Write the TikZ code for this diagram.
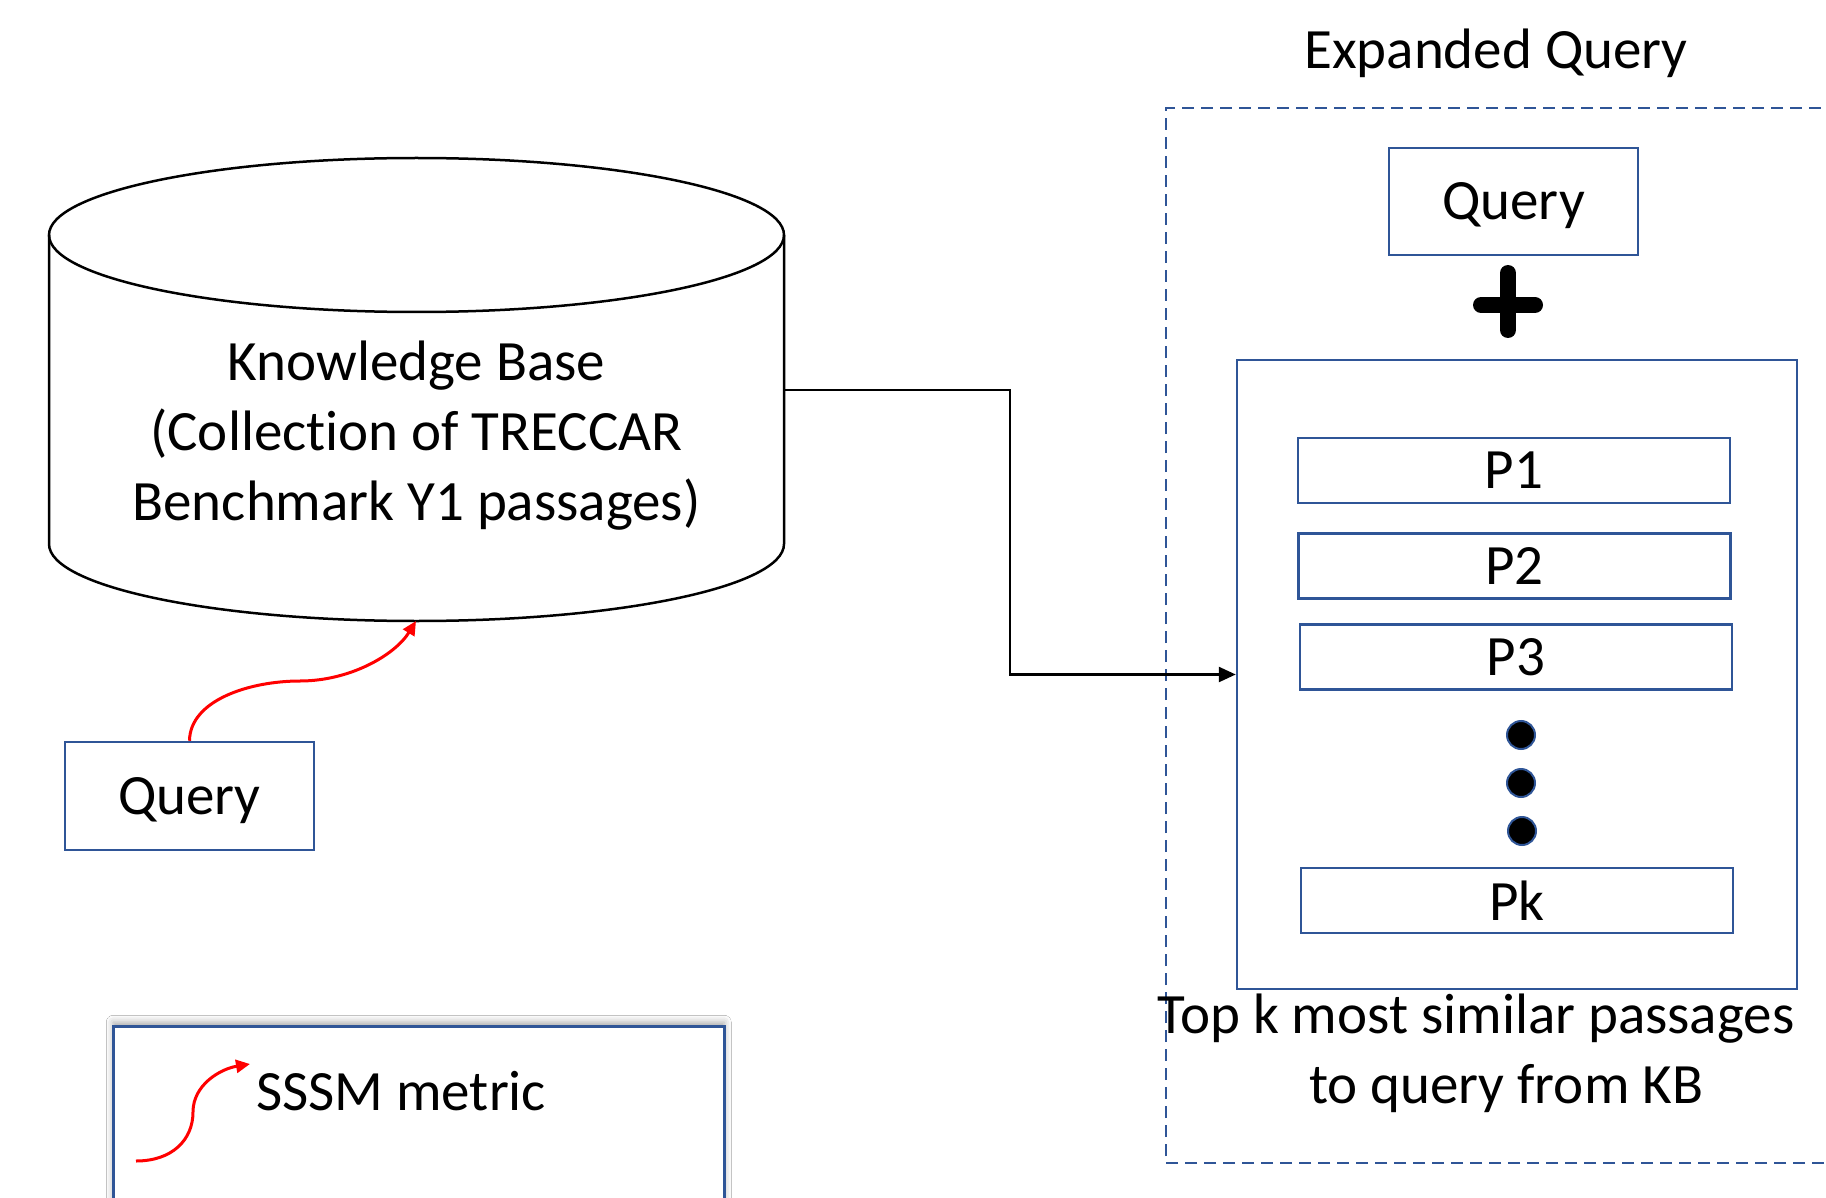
\documentclass[tikz,border=0pt]{standalone}
\usepackage{fontspec}
\setmainfont{Carlito}[Ligatures=NoCommon]
\usetikzlibrary{arrows.meta,shadows.blur}
\definecolor{boxblue}{HTML}{2F5597}
\begin{document}
\begin{tikzpicture}[x=1pt,y=-1pt,
  txt/.style={font=\fontsize{57pt}{70pt}\selectfont, inner sep=0pt},
  qbox/.style={draw=boxblue, line width=2.5pt, fill=white, txt, text depth=0pt, minimum width=249pt, minimum height=108pt},
  pbox/.style={draw=boxblue, line width=2.5pt, txt, minimum width=432pt, minimum height=65pt},
  dotnode/.style={circle, fill=black, draw=boxblue, line width=2pt, minimum size=28pt, inner sep=0pt},
  redarrow/.style={draw=red, line width=3pt, -{Triangle[length=14pt,width=13pt]}},
  blackarrow/.style={draw=black, line width=2.5pt, -{Triangle[length=17pt,width=15pt]}},
  dashbox/.style={draw=boxblue, line width=2.5pt, dash pattern=on 12pt off 7pt}]
\useasboundingbox (0,0) rectangle (1826,1198);
\clip (0,0) rectangle (1826,1198);
\fill[white] (0,0) rectangle (1826,1198);

% Knowledge base cylinder
\draw[line width=2.5pt, fill=white] (49,235) -- (49,544)
  arc[start angle=180, end angle=360, x radius=367.5pt, y radius=77pt] -- (784,235);
\draw[line width=2.5pt] (416.5,235) ellipse [x radius=367.5pt, y radius=77pt];
\node[txt, align=center] (kb) at (416.5,436) {Knowledge Base\\(Collection of TRECCAR\\Benchmark Y1 passages)};
\coordinate (kbright) at (784,390);
\coordinate (kbbottom) at (416,621);

% Query (left)
\node[qbox] (qleft) at (189.5,796) {Query};
\draw[redarrow] (qleft.north) .. controls (190,700) and (250,681) .. (300,681)
  .. controls (350,681) and (395,655) .. (kbbottom);

% Expanded query
\node[txt] (eqtitle) at (1496,53) {Expanded Query};
\draw[dashbox] (1900,1163) -- (1166,1163) -- (1166,108) -- (1900,108);
\node[qbox, minimum height=107pt] (qright) at (1513.5,201.5) {Query};
\draw[line width=16pt, line cap=round] (1481,305) -- (1535,305);
\draw[line width=16pt, line cap=round] (1508,273) -- (1508,330);

\node[draw=boxblue, line width=2.5pt, minimum width=560pt, minimum height=629pt] (big) at (1517,674.5) {};
\node[pbox] (p1) at (1514,470.5) {P1};
\node[pbox] (p2) at (1514.5,566) {P2};
\node[pbox] (p3) at (1516,657) {P3};
\node[dotnode] (d1) at (1521,735) {};
\node[dotnode] (d2) at (1521,783) {};
\node[dotnode] (d3) at (1522,831) {};
\node[pbox] (pk) at (1517,900.5) {Pk};
\node[txt, align=center] (topk) at (1506,1053) {Top k most similar passages\hspace*{60pt}\\to query from KB};

% connector
\draw[blackarrow] (kbright) -- ++(226,0) |- (big.west);

% legend
\node[draw=boxblue, line width=2.5pt, fill=white, anchor=north west,
  minimum width=611pt, minimum height=260pt,
  blur shadow={shadow xshift=0pt, shadow yshift=4pt, shadow blur radius=7pt, shadow opacity=35}] (legend) at (112,1025) {};
\node[txt, anchor=west] (sssm) at (256,1091) {SSSM metric};
\coordinate (lgstart) at (136,1161);
\coordinate (lgend) at (250,1064);
\draw[redarrow] (lgstart) .. controls (172,1161) and (193,1140) .. (193,1112)
  .. controls (193,1085) and (220,1069) .. (lgend);
\end{tikzpicture}
\end{document}
